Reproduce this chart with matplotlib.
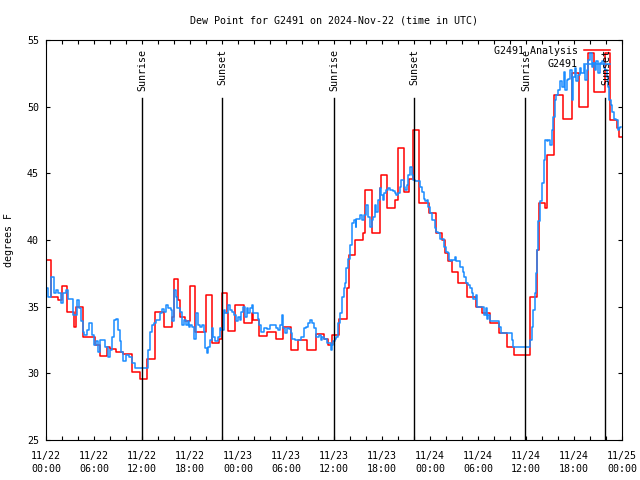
import matplotlib
matplotlib.use("Agg")
import matplotlib.pyplot as plt

# hours since 2024-11-22 00:00 UTC
analysis_hours = [0.0, 0.6, 1.55, 1.95, 2.65, 3.5, 3.7, 4.6, 6.1, 6.75, 7.6, 8.0, 8.8, 9.6,
                  10.7, 11.7, 12.6, 13.6, 14.75, 15.75, 16.0, 16.55, 16.7, 17.4, 17.95, 18.6,
                  20.05, 20.7, 21.6, 22.05, 22.6, 22.75, 23.6, 24.7, 25.7, 25.9, 26.6, 27.6,
                  28.7, 29.6, 30.6, 31.55, 32.6, 33.7, 34.7, 35.3, 35.7, 36.67, 37.58, 37.9,
                  38.6, 39.58, 39.9, 40.7, 41.75, 41.9, 42.67, 43.6, 43.96, 44.75, 45.4, 45.9,
                  46.67, 47.9, 48.75, 49.46, 49.9, 50.3, 50.7, 51.54, 52.6, 53.75, 54.5, 55.5,
                  56.6, 57.6, 58.5, 60.5, 61.4, 61.6, 62.35, 62.6, 63.5, 64.6, 65.8, 66.6,
                  67.8, 68.5, 69.85, 70.55, 71.4, 71.65, 72.0]
analysis_dewpt = [38.5, 35.75, 35.5, 36.55, 34.6, 33.5, 35.0, 32.75, 32.1, 31.3, 32.0, 31.8, 31.6, 31.45,
                  30.1, 29.6, 31.1, 34.6, 33.5, 34.25, 37.05, 35.5, 34.25, 33.9, 36.55, 33.1,
                  35.9, 32.3, 32.6, 36.0, 34.5, 33.2, 35.1, 33.75, 34.5, 34.0, 32.8, 33.1,
                  32.6, 33.5, 31.75, 32.5, 31.75, 32.95, 32.6, 32.1, 32.9, 34.1, 36.4, 38.9,
                  40.0, 40.5, 43.75, 40.5, 43.9, 44.9, 42.4, 43.0, 46.9, 43.6, 44.6, 48.25,
                  42.75, 42.0, 40.5, 40.0, 39.05, 38.4, 37.6, 36.75, 35.75, 35.0, 34.5, 33.75,
                  33.0, 32.0, 31.4, 35.75, 39.25, 42.75, 42.4, 46.4, 50.9, 49.1, 52.5, 50.0,
                  54.0, 51.1, 54.0, 49.0, 48.4, 47.75, 47.75]

obs_hours = [0.0, 0.29, 0.58, 1.0, 1.25, 1.54, 1.83, 2.08, 2.5, 2.79, 3.33, 3.83, 4.1, 4.33,
             4.58, 4.79, 5.08, 5.4, 5.8, 6.0, 6.25, 6.5, 6.75, 7.4, 7.7, 8.0, 8.2, 8.5, 8.75,
             9.0, 9.2, 9.4, 9.6, 10.0, 10.4, 10.8, 11.1, 12.8, 13.0, 13.2, 13.5, 13.8, 14.2,
             14.5, 14.75, 15.0, 15.3, 15.6, 15.8, 16.0, 16.2, 16.4, 16.75, 17.0, 17.25, 17.5,
             17.7, 17.9, 18.0, 18.3, 18.5, 18.75, 18.95, 19.25, 19.5, 19.75, 19.9, 20.1, 20.3,
             20.5, 20.7, 20.9, 21.1, 21.5, 21.75, 21.9, 22.2, 22.3, 22.4, 22.7, 23.0, 23.3,
             23.5, 23.8, 24.0, 24.25, 24.4, 24.6, 24.9, 25.1, 25.3, 25.5, 25.7, 25.9, 26.5,
             26.6, 26.9, 27.2, 27.6, 28.0, 28.7, 29.0, 29.25, 29.5, 29.6, 29.9, 30.1, 30.4,
             30.6, 30.8, 31.1, 31.9, 32.2, 32.5, 32.7, 33.0, 33.3, 33.5, 33.8, 34.1, 34.4,
             34.5, 34.8, 35.1, 35.6, 35.75, 35.9, 36.1, 36.3, 36.5, 36.75, 37.0, 37.2, 37.4,
             37.5, 37.7, 37.8, 38.0, 38.2, 38.3, 38.5, 38.7, 38.8, 39.25, 39.5, 39.7, 40.0,
             40.2, 40.3, 40.5, 40.7, 40.9, 41.1, 41.3, 41.5, 41.7, 41.9, 42.1, 42.3, 42.5,
             42.7, 43.0, 43.4, 43.6, 43.8, 44.0, 44.25, 44.4, 44.7, 44.9, 45.1, 45.3, 45.5,
             45.7, 45.9, 46.1, 46.75, 47.0, 47.2, 47.4, 47.6, 47.8, 48.0, 48.2, 48.6, 48.8,
             49.0, 49.3, 49.8, 50.0, 50.2, 50.4, 50.6, 50.8, 51.1, 51.25, 51.75, 52.1, 52.25,
             52.5, 52.8, 53.0, 53.2, 53.4, 53.7, 53.9, 54.8, 55.0, 55.1, 55.3, 55.5, 56.6,
             56.9, 58.2, 58.4, 60.5, 60.7, 60.9, 61.1, 61.25, 61.4, 61.55, 61.75, 61.95,
             62.2, 62.4, 62.6, 62.8, 63.0, 63.2, 63.4, 63.6, 63.8, 64.0, 64.25, 64.5, 64.7,
             64.9, 65.1, 65.3, 65.5, 65.7, 65.9, 66.1, 66.3, 66.5, 66.75, 66.9, 67.2, 67.4,
             67.6, 67.8, 68.0, 68.2, 68.4, 68.6, 68.8, 69.0, 69.25, 69.5, 69.7, 69.9, 70.1,
             70.3, 70.4, 70.6, 70.8, 71.0, 71.2, 71.5, 71.6, 71.75, 71.9]
obs_dewpt = [36.4, 35.75, 37.25, 36.0, 36.25, 36.0, 35.25, 36.0, 36.25, 35.6, 34.4, 35.5, 34.9, 33.9,
             33.1, 32.9, 33.25, 33.75, 32.9, 32.1, 32.4, 31.6, 32.5, 32.0, 31.25, 31.75, 32.75, 34.0, 34.1,
             33.25, 32.4, 31.6, 30.9, 31.4, 31.25, 30.75, 30.4, 31.75, 33.1, 33.6, 33.75, 34.0, 34.5,
             34.8, 34.6, 35.1, 34.9, 34.75, 33.9, 36.25, 35.75, 34.9, 34.6, 33.6, 34.0, 33.6,
             33.9, 33.5, 33.6, 33.5, 32.6, 34.5, 33.6, 33.5, 33.6, 33.1, 31.9, 31.5, 32.0,
             32.5, 33.4, 32.75, 32.4, 32.75, 33.4, 33.25, 33.9, 34.75, 34.5, 35.1, 34.75, 34.6,
             34.4, 33.9, 34.25, 34.0, 34.6, 35.0, 34.25, 34.9, 34.5, 34.9, 35.1, 34.5, 34.1,
             33.6, 33.1, 33.4, 33.3, 33.6, 33.4, 33.25, 33.6, 34.4, 33.4, 33.0, 33.4, 33.3,
             33.0, 32.6, 32.5, 32.75, 33.4, 33.5, 33.75, 34.0, 33.75, 33.4, 32.75, 32.9, 32.5,
             32.75, 32.6, 32.25, 31.75, 32.1, 32.4, 32.6, 32.75, 33.75, 34.5, 35.75, 36.4, 36.75,
             37.9, 38.25, 38.6, 39.6, 40.4, 41.25, 41.5, 41.0, 41.6, 41.9, 41.5, 41.9, 42.6,
             42.4, 41.75, 41.0, 41.5, 41.75, 42.6, 42.1, 43.0, 43.9, 43.4, 43.0, 43.5, 43.75,
             43.9, 43.75, 43.7, 43.5, 43.4, 43.5, 44.0, 44.5, 44.0, 43.75, 44.1, 44.9, 45.5,
             44.9, 44.5, 44.4, 44.0, 43.6, 43.1, 42.9, 43.0, 42.5, 42.0, 41.5, 40.9, 40.6,
             40.5, 40.1, 39.5, 39.1, 39.0, 38.5, 38.4, 38.5, 38.75, 38.4, 38.0, 37.6, 37.25,
             36.75, 36.6, 36.4, 36.0, 35.6, 35.9, 35.0, 34.4, 34.9, 34.1, 34.4, 33.9, 33.5,
             33.0, 32.5, 32.0, 32.5, 33.5, 34.75, 36.0, 37.5, 39.25, 41.4, 42.9, 44.25,
             46.0, 47.5, 47.4, 47.5, 47.1, 48.25, 49.25, 50.5, 50.9, 51.25, 51.9, 51.5, 52.6,
             51.25, 52.0, 52.1, 52.75, 50.5, 52.25, 52.9, 51.9, 52.4, 52.9, 52.5, 53.1, 52.0,
             52.75, 53.5, 54.0, 53.0, 53.25, 52.75, 53.4, 52.5, 53.25, 53.4, 52.9, 52.75, 52.25,
             51.5, 50.5, 50.1, 49.6, 49.1, 49.0, 48.25, 48.4, 48.5, 48.5]

sun_labels = ["Sunrise", "Sunset", "Sunrise", "Sunset", "Sunrise", "Sunset"]
sun_hours = [12.0, 22.0, 36.0, 46.0, 59.9, 69.9]

x_ticks = [0, 6, 12, 18, 24, 30, 36, 42, 48, 54, 60, 66, 72]
x_labels = ["11/22\n00:00", "11/22\n06:00", "11/22\n12:00", "11/22\n18:00",
            "11/23\n00:00", "11/23\n06:00", "11/23\n12:00", "11/23\n18:00",
            "11/24\n00:00", "11/24\n06:00", "11/24\n12:00", "11/24\n18:00",
            "11/25\n00:00"]
y_ticks = [25, 30, 35, 40, 45, 50, 55]

plt.rcParams["font.family"] = "DejaVu Sans Mono"
plt.rcParams["font.size"] = 7.2

fig = plt.figure(figsize=(6.4, 4.8), dpi=100)
ax = fig.add_axes([46 / 640, 40 / 480, 576 / 640, 400 / 480])

ax.plot(analysis_hours, analysis_dewpt, drawstyle="steps-post", color="#ff0000",
        lw=1.1, label="G2491 Analysis")
ax.plot(obs_hours, obs_dewpt, drawstyle="steps-post", color="#1a8cff",
        lw=1.1, label="G2491")

for name, t in zip(sun_labels, sun_hours):
    ax.plot([t, t], [25, 50.65], color="black", lw=1.0)
    ax.text(t + 0.1, 54.3, name, rotation=90, ha="center", va="top")

ax.set_xlim(0, 72)
ax.set_ylim(25, 55)
ax.set_xticks(x_ticks)
ax.set_xticklabels(x_labels, linespacing=1.35)
ax.set_xticks(range(0, 73, 2), minor=True)
ax.set_yticks(y_ticks)
ax.tick_params(which="both", direction="in", top=True, right=True,
               length=3, width=0.8)
ax.tick_params(axis="x", pad=8)
ax.tick_params(axis="y", pad=5)

ax.set_title("Dew Point for G2491 on 2024-Nov-22 (time in UTC)", fontsize=7.2, pad=12)
ax.set_ylabel("degrees F")
ax.yaxis.set_label_coords(-32 / 576, 0.5)

ax.legend(loc="upper right", bbox_to_anchor=(0.979, 0.985), frameon=False,
          markerfirst=False, handlelength=2.6, handletextpad=0.6,
          labelspacing=0.35, borderaxespad=0, borderpad=0)

fig.savefig("out.png", dpi=100)
